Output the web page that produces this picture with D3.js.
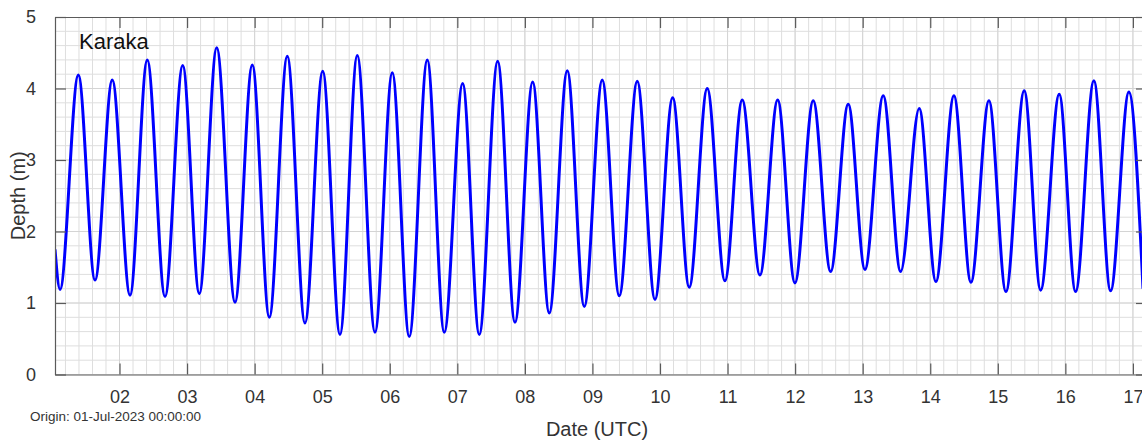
<!DOCTYPE html>
<html>
<head>
<meta charset="utf-8">
<script src="https://cdn.jsdelivr.net/npm/d3@7"></script>
<style>
  html, body { margin: 0; padding: 0; background: #fff; }
  svg { display: block; overflow: hidden; }
  text { font-family: "Liberation Sans", Arial, sans-serif; }
</style>
</head>
<body>
<svg id="chart" width="1142" height="441"></svg>
<script>
// ---- data ----
const stationName = "Karaka";
const originLabel = "Origin: 01-Jul-2023 00:00:00";
const xTitle = "Date (UTC)";
const yTitle = "Depth (m)";

const domainStart = "2023-07-01T01:05";
const domainEnd = "2023-07-17T05:00";

// tide turning points (chronological), plus the first sample
const tideTimes = [
  "2023-07-01T01:05","2023-07-01T02:52","2023-07-01T09:22","2023-07-01T15:18","2023-07-01T21:26",
  "2023-07-02T03:44","2023-07-02T09:52","2023-07-02T16:10","2023-07-02T22:27",
  "2023-07-03T04:21","2023-07-03T10:32","2023-07-03T17:02","2023-07-03T23:10",
  "2023-07-04T05:13","2023-07-04T11:36","2023-07-04T17:53",
  "2023-07-05T00:11","2023-07-05T06:19","2023-07-05T12:28","2023-07-05T18:45",
  "2023-07-06T00:54","2023-07-06T06:56","2023-07-06T13:20","2023-07-06T19:22",
  "2023-07-07T01:54","2023-07-07T07:48","2023-07-07T14:20","2023-07-07T20:29",
  "2023-07-08T02:46","2023-07-08T08:40","2023-07-08T15:04","2023-07-08T21:06",
  "2023-07-09T03:29","2023-07-09T09:32","2023-07-09T15:55","2023-07-09T22:13",
  "2023-07-10T04:30","2023-07-10T10:23","2023-07-10T16:47","2023-07-10T23:04",
  "2023-07-11T05:13","2023-07-11T11:30","2023-07-11T17:48","2023-07-11T23:56",
  "2023-07-12T06:26","2023-07-12T12:37","2023-07-12T18:52",
  "2023-07-13T00:48","2023-07-13T07:18","2023-07-13T13:29","2023-07-13T20:05",
  "2023-07-14T02:01","2023-07-14T08:25","2023-07-14T14:27","2023-07-14T20:51",
  "2023-07-15T02:53","2023-07-15T09:23","2023-07-15T15:13","2023-07-15T21:49",
  "2023-07-16T03:38","2023-07-16T10:08","2023-07-16T16:04","2023-07-16T22:34",
  "2023-07-17T03:35"
];
const tideDepths = [
  1.75, 1.19, 4.19, 1.32, 4.12,
  1.11, 4.40, 1.09, 4.32,
  1.13, 4.57, 1.01, 4.33,
  0.80, 4.45, 0.72,
  4.24, 0.56, 4.46, 0.59,
  4.22, 0.53, 4.40, 0.59,
  4.07, 0.56, 4.38, 0.73,
  4.09, 0.86, 4.25, 0.95,
  4.12, 1.10, 4.10, 1.05,
  3.87, 1.22, 4.00, 1.31,
  3.84, 1.39, 3.84, 1.28,
  3.83, 1.44, 3.78,
  1.47, 3.90, 1.44, 3.72,
  1.30, 3.90, 1.29, 3.83,
  1.16, 3.97, 1.18, 3.92,
  1.16, 4.11, 1.17, 3.95,
  1.20
];

const xTickDates = ["2023-07-02","2023-07-03","2023-07-04","2023-07-05","2023-07-06","2023-07-07",
  "2023-07-08","2023-07-09","2023-07-10","2023-07-11","2023-07-12","2023-07-13","2023-07-14",
  "2023-07-15","2023-07-16","2023-07-17"];
const xTickLabels = ["02","03","04","05","06","07","08","09","10","11","12","13","14","15","16","17"];
const yTicks = [0, 1, 2, 3, 4, 5];
const yTickLabels = ["0","1","2","3","4","5"];

// ---- layout ----
const margin = { left: 55, top: 17, right: 1147, bottom: 374.5 };
const parseT = d3.utcParse("%Y-%m-%dT%H:%M");
const parseD = d3.utcParse("%Y-%m-%d");

const x = d3.scaleUtc().domain([parseT(domainStart), parseT(domainEnd)]).range([margin.left, margin.right]);
const y = d3.scaleLinear().domain([0, 5]).range([margin.bottom, margin.top]);

const svg = d3.select("#chart");
const W = margin.right - margin.left, H = margin.bottom - margin.top;

svg.append("defs").append("clipPath").attr("id", "plotclip")
  .append("rect").attr("x", margin.left).attr("y", margin.top).attr("width", W).attr("height", H);

// minor grid
const gridG = svg.append("g").attr("clip-path", "url(#plotclip)");
const minorX = [];
{
  const t0 = parseD("2023-07-01").getTime();
  const end = parseT(domainEnd).getTime();
  const step = 0.2 * 24 * 3600 * 1000;
  for (let i = 0; t0 + i * step <= end; i++) minorX.push(new Date(t0 + i * step));
}
const minorY = d3.range(0, 26).map(i => i * 0.2);

gridG.selectAll(".gx").data(minorX).join("line")
  .attr("x1", d => x(d)).attr("x2", d => x(d))
  .attr("y1", margin.top).attr("y2", margin.bottom)
  .attr("stroke", "#dedede").attr("stroke-width", 1);
gridG.selectAll(".gy").data(minorY).join("line")
  .attr("x1", margin.left).attr("x2", margin.right)
  .attr("y1", d => y(d)).attr("y2", d => y(d))
  .attr("stroke", "#dedede").attr("stroke-width", 1);

// major grid
gridG.selectAll(".mx").data(xTickDates.map(parseD)).join("line")
  .attr("x1", d => x(d)).attr("x2", d => x(d))
  .attr("y1", margin.top).attr("y2", margin.bottom)
  .attr("stroke", "#d4d4d4").attr("stroke-width", 1);
gridG.selectAll(".my").data(yTicks).join("line")
  .attr("x1", margin.left).attr("x2", margin.right)
  .attr("y1", d => y(d)).attr("y2", d => y(d))
  .attr("stroke", "#d4d4d4").attr("stroke-width", 1);

// data line
const series = tideTimes.map((t, i) => ({ t: parseT(t), v: tideDepths[i] }));
svg.append("path")
  .datum(series)
  .attr("clip-path", "url(#plotclip)")
  .attr("fill", "none")
  .attr("stroke", "#0000ff")
  .attr("stroke-width", 3)
  .attr("stroke-linejoin", "round")
  .attr("d", d3.line().x(d => x(d.t)).y(d => y(d.v)).curve(d3.curveMonotoneX));

// axes
const axisColor = "#5a5a5a";
const labelColor = "#333333";
const tickLen = 11;

const xBottom = d3.axisBottom(x).tickValues(xTickDates.map(parseD))
  .tickFormat((d, i) => xTickLabels[i]).tickSizeInner(-tickLen).tickSizeOuter(0).tickPadding(16);
const gxb = svg.append("g").attr("transform", `translate(0,${margin.bottom})`).call(xBottom);

const xTop = d3.axisTop(x).tickValues(xTickDates.map(parseD))
  .tickFormat("").tickSizeInner(-tickLen).tickSizeOuter(0);
const gxt = svg.append("g").attr("transform", `translate(0,${margin.top})`).call(xTop);

const yLeft = d3.axisLeft(y).tickValues(yTicks)
  .tickFormat((d, i) => yTickLabels[i]).tickSizeInner(-tickLen).tickSizeOuter(0).tickPadding(19);
const gyl = svg.append("g").attr("transform", `translate(${margin.left},0)`).call(yLeft);

const yRight = d3.axisRight(y).tickValues(yTicks)
  .tickFormat("").tickSizeInner(-tickLen).tickSizeOuter(0);
const gyr = svg.append("g").attr("transform", `translate(${margin.right},0)`).call(yRight);

[gxb, gxt, gyl, gyr].forEach(g => {
  g.select(".domain").attr("stroke", axisColor).attr("stroke-width", 1.2);
  g.selectAll(".tick line").attr("stroke", axisColor).attr("stroke-width", 1.2);
  g.selectAll(".tick text").attr("fill", labelColor).attr("font-size", 18)
    .attr("font-family", "'Liberation Sans', Arial, sans-serif");
});

// texts
svg.append("text").attr("x", 79).attr("y", 48.5)
  .attr("font-size", 22).attr("fill", "#111").text(stationName);

svg.append("text").attr("x", 30).attr("y", 421)
  .attr("font-size", 13.5).attr("fill", "#333").text(originLabel);

svg.append("text").attr("x", 597).attr("y", 436)
  .attr("text-anchor", "middle").attr("font-size", 20).attr("fill", "#333").text(xTitle);

svg.append("text").attr("transform", `translate(25,${(margin.top + margin.bottom) / 2}) rotate(-90)`)
  .attr("text-anchor", "middle").attr("font-size", 20).attr("fill", "#333").text(yTitle);
</script>
</body>
</html>
